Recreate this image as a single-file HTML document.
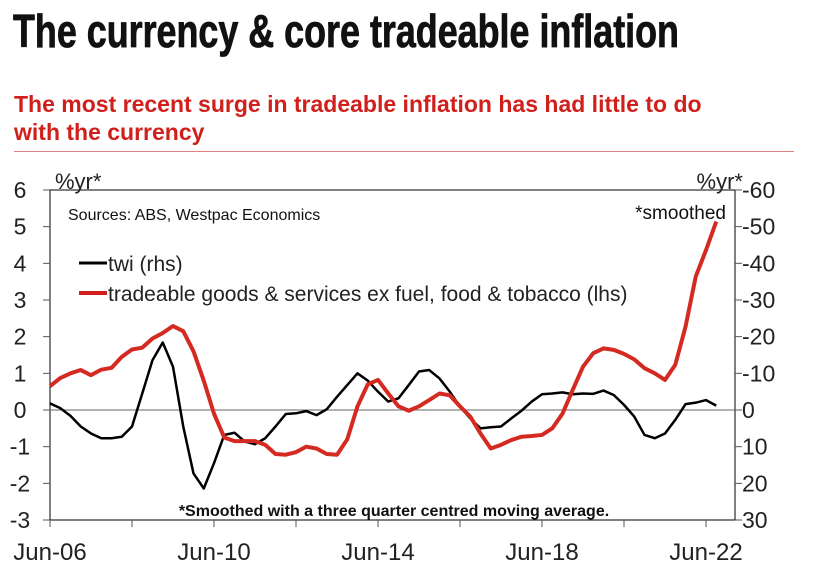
<!DOCTYPE html>
<html><head><meta charset="utf-8"><style>
body{margin:0;background:#fff;width:813px;height:581px;overflow:hidden;font-family:"Liberation Sans",sans-serif}
#title{position:absolute;left:13px;top:4px;font-family:"Liberation Sans Narrow","Liberation Sans",sans-serif;font-weight:bold;font-size:46px;letter-spacing:0px;color:#111;transform:scaleX(0.78);transform-origin:left;white-space:nowrap;-webkit-text-stroke:0.8px #111}
#sub{position:absolute;left:14px;top:90px;font-weight:bold;font-size:23px;line-height:28px;color:#d0201c;white-space:nowrap}
#rule{position:absolute;left:14px;top:151px;width:780px;height:1px;background:#e08080}
svg{position:absolute;left:0;top:0}
</style></head><body>
<div id="title">The currency &amp; core tradeable inflation</div>
<div id="sub">The most recent surge in tradeable inflation has had little to do<br>with the currency</div>
<div id="rule"></div>
<svg id="chart" width="813" height="581"></svg>
<script>
const lhsTicks=[6,5,4,3,2,1,0,-1,-2,-3];
const rhsTicks=["-60","-50","-40","-30","-20","-10","0","10","20","30"];
const xLabels=["Jun-06","Jun-10","Jun-14","Jun-18","Jun-22"];
const tradeable=[0.65,0.87,1.0,1.09,0.95,1.1,1.15,1.45,1.65,1.7,1.95,2.1,2.29,2.15,1.6,0.8,-0.1,-0.75,-0.85,-0.85,-0.85,-0.95,-1.2,-1.22,-1.15,-1.0,-1.05,-1.2,-1.22,-0.8,0.1,0.7,0.82,0.45,0.1,-0.02,0.1,0.27,0.45,0.4,0.1,-0.18,-0.64,-1.05,-0.95,-0.82,-0.73,-0.71,-0.68,-0.5,-0.1,0.55,1.18,1.55,1.68,1.64,1.53,1.38,1.14,1.0,0.82,1.23,2.27,3.64,4.36,5.14];
const twi=[-1.8,-0.5,1.6,4.5,6.4,7.7,7.7,7.3,4.5,-4.5,-13.6,-18.4,-11.8,4.5,17.3,21.4,14.5,6.8,6.2,8.6,9.3,7.7,4.5,1.1,0.9,0.3,1.4,-0.2,-3.6,-6.8,-10,-8,-5,-2.3,-3.2,-6.8,-10.5,-10.9,-8.6,-5,-0.9,2.3,5,4.7,4.5,2.3,0.2,-2.3,-4.3,-4.5,-4.8,-4.3,-4.5,-4.4,-5.3,-4.1,-1.4,1.8,6.8,7.7,6.4,2.7,-1.6,-2,-2.7,-1.2];
const L=50,R=735,T=190,B=520;
const yL=v=>410-v*36.67;
const yR=v=>410+v*3.667;
const xQ=i=>50+i*10.25;
const NS="http://www.w3.org/2000/svg";
const svg=document.getElementById('chart');
function el(t,a,p){const e=document.createElementNS(NS,t);for(const k in a)e.setAttribute(k,a[k]);(p||svg).appendChild(e);return e;}
function txt(s,x,y,a){const e=el('text',Object.assign({x:x,y:y,'font-family':'"Liberation Sans",sans-serif'},a));e.textContent=s;return e;}
const frame=el('rect',{x:L,y:T,width:R-L,height:B-T,fill:'none',stroke:'#000','stroke-width':1});


const zl=el('line',{x1:L,x2:R,y1:yL(0),y2:yL(0),stroke:'#666','stroke-width':1});


lhsTicks.forEach((v,i)=>{
  const y=yL(v);
  el('line',{x1:L-7,x2:L,y1:y,y2:y,stroke:'#555'});
  const t=txt(String(v),20,y+8,{'font-size':23,'text-anchor':'middle',fill:'#222'});
  
  
  el('line',{x1:R,x2:R+7,y1:y,y2:y,stroke:'#555'});
  const r=txt(rhsTicks[i],742,y+8,{'font-size':23,fill:'#222'});
  
  
});
for(let k=0;k<=8;k++){const x=xQ(k*8);el('line',{x1:x,x2:x,y1:B,y2:B+7,stroke:'#555'});}
xLabels.forEach((s,k)=>{
  const t=txt(s,xQ(k*16),560,{'font-size':24,'text-anchor':'middle',fill:'#222'});
  
  
});
let a=txt('%yr*',55,189,{'font-size':22,fill:'#222'});


a=txt('%yr*',743,189,{'font-size':22,fill:'#222','text-anchor':'end'});


a=txt('Sources: ABS, Westpac Economics',68,220,{'font-size':16,fill:'#111'});


a=txt('*smoothed',726,219,{'font-size':19,fill:'#111','text-anchor':'end'});


a=txt('*Smoothed with a three quarter centred moving average.',394,516,{'font-size':16,'font-weight':'bold','text-anchor':'middle',fill:'#111','font-family':'"Liberation Sans Narrow","Liberation Sans",sans-serif'});


el('line',{x1:79,x2:107,y1:263,y2:263,stroke:'#000','stroke-width':3});
a=txt('twi (rhs)',108,271,{'font-size':21,fill:'#222'});


el('line',{x1:79,x2:107,y1:293,y2:293,stroke:'#d0201c','stroke-width':4});
a=txt('tradeable goods & services ex fuel, food & tobacco (lhs)',108,301,{'font-size':21,fill:'#222'});


const p1=el('polyline',{points:twi.map((v,i)=>xQ(i)+','+yR(v)).join(' '),fill:'none',stroke:'#000','stroke-width':2.5,'stroke-linejoin':'round'});


const p2=el('polyline',{points:tradeable.map((v,i)=>xQ(i)+','+yL(v)).join(' '),fill:'none',stroke:'#d42a22','stroke-width':4,'stroke-linejoin':'round'});


</script>
</body></html>
